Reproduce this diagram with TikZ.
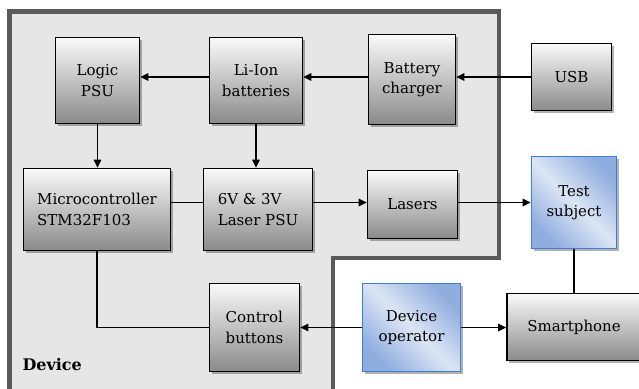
\documentclass[tikz,border=0pt]{standalone}
\usepackage{fontspec}
\setmainfont{DejaVu Serif}
\usetikzlibrary{arrows.meta,shadows}
\definecolor{devfill}{HTML}{E6E6E6}
\definecolor{devline}{HTML}{5A5A5A}
\definecolor{grayt}{HTML}{FAFAFA}
\definecolor{grayb}{HTML}{8A8A8A}
\definecolor{bluel}{HTML}{DCE5F4}
\definecolor{blued}{HTML}{8FADDF}
\definecolor{blueb}{HTML}{3A7ED6}
\begin{document}
\begin{tikzpicture}[x=1pt,y=-1pt,
  boxbase/.style={rectangle, line width=1.6pt, inner sep=0pt,
    font=\fontsize{15}{20.5}\selectfont, align=center,
    drop shadow={shadow xshift=2pt, shadow yshift=-2pt, fill=black, opacity=0.3}},
  gbox/.style={boxbase, draw=black, top color=grayt, bottom color=grayb},
  bbox/.style={boxbase, draw=blueb, top color=blued, bottom color=blued, middle color=bluel, shading angle=-45},
  conn/.style={line width=1.6pt, black},
  arr/.style={conn, -{Triangle[length=8pt,width=7.5pt]}}
]
\useasboundingbox (0,0) rectangle (639,388);
% device region
\draw[devline, line width=4.5pt, fill=devfill, line join=miter]
  (9.5,11.7) -- (499,11.7) -- (499,258) -- (333,258) -- (333,400) -- (9.5,400) -- cycle;
\node[font=\bfseries\fontsize{16}{22}\selectfont, anchor=base west] (devlabel) at (19,370) {Device};

% nodes
\node[gbox, minimum width=84pt, minimum height=86pt] (logic) at (97.5,80.5) {Logic\\PSU};
\node[gbox, minimum width=93pt, minimum height=86pt] (liion) at (256,80.5) {Li-Ion\\batteries};
\node[gbox, minimum width=87pt, minimum height=90pt] (charger) at (412,79.5) {Battery\\charger};
\node[gbox, minimum width=80pt, minimum height=67pt] (usb) at (571.5,77) {USB};
\node[gbox, minimum width=147pt, minimum height=82pt, align=left] (micro) at (97,209.5) {Microcontroller\\STM32F103};
\node[gbox, minimum width=109pt, minimum height=82pt, align=left] (laserpsu) at (258,209.5) {6V \& 3V\\Laser PSU};
\node[gbox, minimum width=90pt, minimum height=68pt] (lasers) at (412.5,204.5) {Lasers};
\node[bbox, minimum width=85pt, minimum height=92pt] (test) at (574,202.5) {Test\\subject};
\node[gbox, minimum width=90pt, minimum height=88pt, align=left] (control) at (254.5,327.5) {Control\\buttons};
\node[bbox, minimum width=98pt, minimum height=88pt] (operator) at (411.5,327.5) {Device\\operator};
\node[gbox, minimum width=134pt, minimum height=67pt] (phone) at (574,327) {Smartphone};

% connectors
\draw[arr] (usb.west) -- (usb.west -| charger.east);
\draw[arr] (charger.west |- usb.west) -- (liion.east |- usb.west);
\draw[arr] (liion.west |- usb.west) -- (logic.east |- usb.west);
\draw[arr] (logic.south) -- (logic.south |- micro.north);
\draw[arr] (liion.south) -- (liion.south |- laserpsu.north);
\draw[conn] (micro.east |- test.west) -- (laserpsu.west |- test.west);
\draw[arr] (laserpsu.east |- test.west) -- (lasers.west |- test.west);
\draw[arr] (lasers.east |- test.west) -- (test.west);
\draw[conn] (test.south) -- (test.south |- phone.north);
\draw[arr] (operator.east) -- (phone.west |- operator.east);
\draw[arr] (operator.west) -- (control.east);
\draw[conn] (micro.south) -- (micro.south |- control.west) -- (control.west);
\end{tikzpicture}
\end{document}
